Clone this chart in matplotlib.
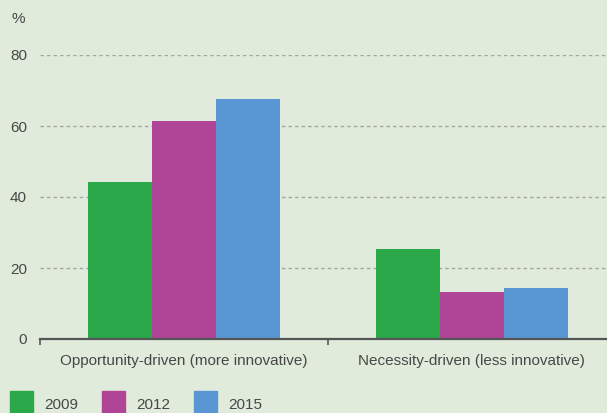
import numpy as np
import matplotlib
matplotlib.use("Agg")
import matplotlib.pyplot as plt
import matplotlib.patches as mpatches

categories = ["Opportunity-driven (more innovative)", "Necessity-driven (less innovative)"]
years = ["2009", "2012", "2015"]
values = {
    "2009": [44.2, 25.4],
    "2012": [61.4, 13.2],
    "2015": [67.6, 14.4],
}
yticks = [0, 20, 40, 60, 80]

colors = ["#2aa84a", "#b04597", "#5997d4"]
bg = "#e0ebdb"
txt = "#474747"
fs = 11

plt.rcParams["font.family"] = ["Liberation Sans", "DejaVu Sans"]

W, H = 607, 413
fig = plt.figure(figsize=(W / 100, H / 100), dpi=100, facecolor=bg)
ax = fig.add_axes([40 / W, 1 - 339 / H, 1 - 40 / W, (339 - 55) / H])
ax.set_facecolor(bg)

x = np.arange(len(categories))
w = 0.222
for i, yr in enumerate(years):
    ax.bar(x + (i - 1) * w, values[yr], width=w, color=colors[i], zorder=3)

ax.set_xlim(-0.5, 1.47)
ax.set_ylim(0, 80)
ax.set_yticks(yticks)
ax.set_yticklabels([str(t) for t in yticks], color=txt, fontsize=fs)
ax.yaxis.grid(True, linestyle=(0, (2.5, 2.2)), color="#a3a7a2", linewidth=1.0, zorder=0)
ax.tick_params(axis="y", length=0, pad=9.4)

ax.set_xticks(x)
ax.set_xticklabels(categories, color=txt, fontsize=fs)
ax.tick_params(axis="x", length=0, pad=11)
# small separator ticks below the axis line
ax.set_xticks([-0.5, 0.5], minor=True)
ax.tick_params(axis="x", which="minor", length=4, width=1.2, color="#555555")

for s in ["top", "right", "left"]:
    ax.spines[s].set_visible(False)
ax.spines["bottom"].set_color("#555555")
ax.spines["bottom"].set_linewidth(1.6)
ax.spines["bottom"].set_zorder(4)

fig.text(11 / W, 1 - 19 / H, "%", color=txt, fontsize=fs, ha="left", va="center")

# legend along the bottom edge, partly cut off like the original
for i, (c, yr) in enumerate(zip(colors, years)):
    x0 = 10 + i * 92
    fig.add_artist(mpatches.Rectangle((x0 / W, 0), 23 / W, 22 / H,
                                      transform=fig.transFigure, color=c))
    fig.text((x0 + 34) / W, 1 - 405 / H, yr, color=txt, fontsize=fs,
             ha="left", va="center")

fig.savefig("out.png", dpi=100, facecolor=bg)
